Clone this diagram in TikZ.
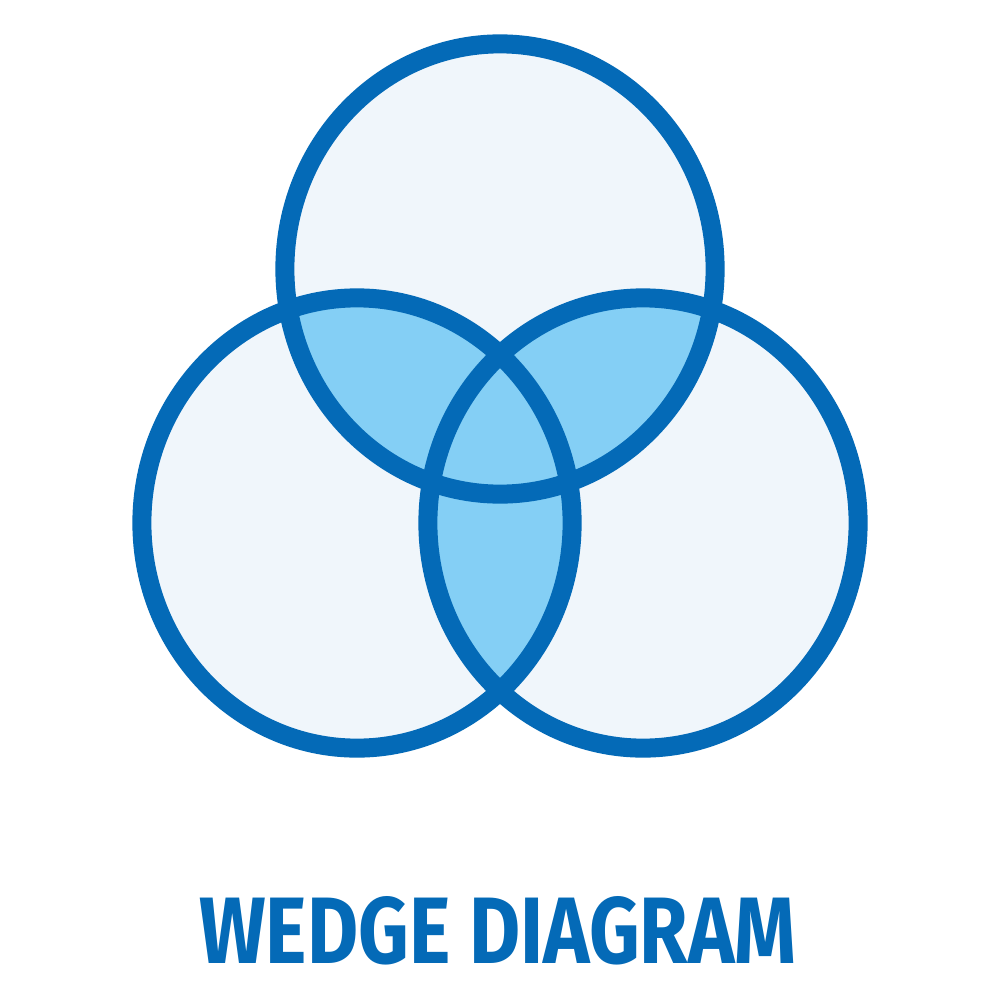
\documentclass[tikz,border=0pt]{standalone}
\usepackage{fontspec}
\setmainfont{Fira Sans}
\usepackage{graphicx}
\definecolor{edge}{HTML}{046AB7}
\definecolor{pale}{HTML}{F0F6FB}
\definecolor{lap}{HTML}{84CFF5}
\begin{document}
\begin{tikzpicture}[x=0.01cm,y=-0.01cm,
  ring/.style={draw=edge,line width=0.19cm},
  oval/.style={x radius=2.15cm,y radius=2.25cm}]
\useasboundingbox[fill=white] (0,0) rectangle (1000,1000);
\coordinate (T) at (500,269);
\coordinate (L) at (357,523);
\coordinate (R) at (643,523);
% pale fills
\fill[pale] (T) ellipse[oval];
\fill[pale] (L) ellipse[oval];
\fill[pale] (R) ellipse[oval];
% overlaps
\begin{scope}
  \clip (T) ellipse[oval];
  \fill[lap] (L) ellipse[oval];
  \fill[lap] (R) ellipse[oval];
\end{scope}
\begin{scope}
  \clip (L) ellipse[oval];
  \fill[lap] (R) ellipse[oval];
\end{scope}
% outlines
\draw[ring] (T) ellipse[oval];
\draw[ring] (L) ellipse[oval];
\draw[ring] (R) ellipse[oval];
% title
\node[text=edge,inner sep=0pt] (title) at (498,931)
  {\resizebox{5.97cm}{0.67cm}{\bfseries WEDGE DIAGRAM}};
\end{tikzpicture}
\end{document}
